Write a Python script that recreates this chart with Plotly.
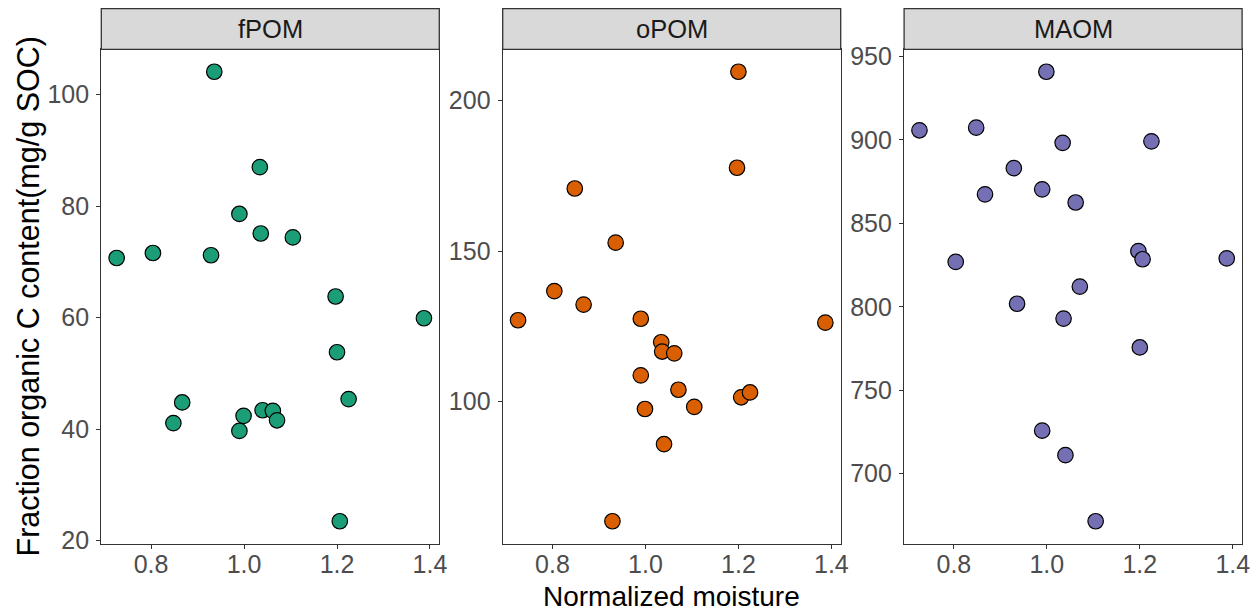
import plotly.graph_objects as go

# Normalized soil moisture of each sample (shared by all three fractions)
moisture = [0.726, 0.804, 0.848, 0.867, 0.929, 0.936, 0.990, 0.990, 0.999, 1.034,
            1.036, 1.040, 1.062, 1.071, 1.105, 1.197, 1.200, 1.206, 1.225, 1.387]

# Fraction organic C content (mg/g SOC)
fpom = [70.7, 71.6, 41.1, 44.8, 71.2, 104.1, 78.6, 39.7, 42.4, 87.0,
        75.1, 43.4, 43.3, 41.6, 74.4, 63.8, 53.8, 23.5, 45.4, 59.9]
opom = [127.0, 136.7, 170.8, 132.2, 60.2, 152.8, 127.5, 108.7, 97.5, 119.7,
        116.6, 85.8, 116.0, 103.9, 98.2, 177.7, 209.6, 101.4, 103.0, 126.2]
maom = [905.8, 826.9, 907.4, 867.4, 883.1, 801.8, 870.4, 725.7, 940.9, 898.3,
        792.9, 711.0, 862.5, 812.1, 671.4, 833.4, 775.6, 828.5, 899.2, 829.0]

fractions = ["fPOM", "oPOM", "MAOM"]
series = [fpom, opom, maom]
colors = ["#1B9E77", "#D95F02", "#7570B3"]

x_ticks = [0.8, 1.0, 1.2, 1.4]
x_ticklabels = ["0.8", "1.0", "1.2", "1.4"]
y_ticks = [[20, 40, 60, 80, 100], [100, 150, 200], [700, 750, 800, 850, 900, 950]]

W, H = 1258, 613
panel_left = [101.3, 502.7, 904.1]
panel_w = 338.0
panel_top, panel_bottom = 49.3, 543.7
strip_top = 8.7

FONT = "Liberation Sans, Arial, Helvetica, sans-serif"
LINE = "#333333"
TICK_FONT = dict(size=25, color="#4D4D4D", family=FONT)


def padded(vals, frac=0.05):
    lo, hi = min(vals), max(vals)
    d = (hi - lo) * frac
    return [lo - d, hi + d]


fig = go.Figure()
layout = dict(
    template="none",
    width=W, height=H,
    margin=dict(l=0, r=0, t=0, b=0, pad=0),
    paper_bgcolor="white", plot_bgcolor="white",
    showlegend=False,
    font=dict(family=FONT),
)
shapes, annotations = [], []
x_range = padded(moisture)

for i, (name, ys, col) in enumerate(zip(fractions, series, colors)):
    xa = "xaxis" if i == 0 else f"xaxis{i + 1}"
    ya = "yaxis" if i == 0 else f"yaxis{i + 1}"
    xr = "x" if i == 0 else f"x{i + 1}"
    yr = "y" if i == 0 else f"y{i + 1}"
    x0 = panel_left[i] / W
    x1 = (panel_left[i] + panel_w) / W
    y0 = 1 - panel_bottom / H
    y1 = 1 - panel_top / H

    fig.add_trace(go.Scatter(
        x=moisture, y=ys, mode="markers", xaxis=xr, yaxis=yr,
        marker=dict(size=15.5, color=col, line=dict(color="black", width=1.2)),
        hoverinfo="x+y",
    ))

    common = dict(
        showgrid=False, zeroline=False, automargin=False,
        showline=True, mirror=True, linecolor=LINE, linewidth=1.3,
        ticks="outside", ticklen=4, tickwidth=1.2, tickcolor=LINE,
        tickfont=TICK_FONT,
    )
    layout[xa] = dict(
        domain=[x0, x1], anchor=yr, range=x_range,
        tickvals=x_ticks, ticktext=x_ticklabels, ticklabelstandoff=-6,
        **common,
    )
    layout[ya] = dict(
        domain=[y0, y1], anchor=xr, range=padded(ys),
        tickvals=y_ticks[i], ticklabelstandoff=2,
        **common,
    )

    # facet strip
    shapes.append(dict(
        type="rect", xref="paper", yref="paper",
        x0=x0, x1=x1, y0=y1, y1=1 - strip_top / H,
        fillcolor="#D9D9D9", line=dict(color=LINE, width=1.3), layer="above",
    ))
    annotations.append(dict(
        text=name, xref="paper", yref="paper",
        x=(x0 + x1) / 2, y=1 - (strip_top + panel_top) / 2 / H,
        xanchor="center", yanchor="middle", showarrow=False,
        font=dict(size=25.5, color="#1A1A1A", family=FONT),
    ))

# axis titles
annotations.append(dict(
    text="Normalized moisture", xref="paper", yref="paper",
    x=(panel_left[0] + panel_left[2] + panel_w) / 2 / W, y=1 - 596 / H,
    xanchor="center", yanchor="middle", showarrow=False,
    font=dict(size=28, color="black", family=FONT),
))
annotations.append(dict(
    text="Fraction organic C content(mg/g SOC)", xref="paper", yref="paper",
    x=28 / W, y=1 - (panel_top + panel_bottom) / 2 / H,
    xanchor="center", yanchor="middle", showarrow=False, textangle=-90,
    font=dict(size=30.5, color="black", family=FONT),
))

layout["shapes"] = shapes
layout["annotations"] = annotations
fig.update_layout(**layout)

fig.write_html("out.html")
